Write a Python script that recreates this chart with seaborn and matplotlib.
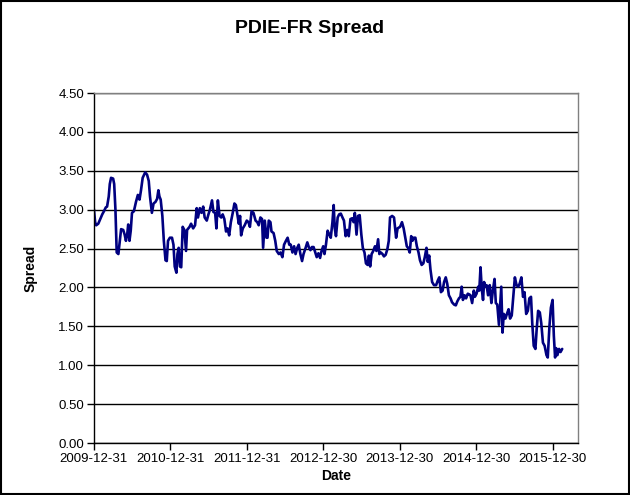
import pandas as pd
import matplotlib
matplotlib.use("Agg")
import matplotlib.pyplot as plt
import seaborn as sns
from matplotlib.patches import Rectangle

# Data: days since 2009-12-31 and spread
start_date = "2009-12-31"
day_offsets = [
    0, 6, 11, 21, 29, 40, 48, 57, 63, 71, 76, 82, 92, 97, 103, 109, 117, 124, 130, 140,
    147, 153, 159, 164, 170, 176, 182, 191, 201, 210, 218, 225, 233, 245, 254, 262, 268, 277, 285, 294,
    302, 308, 313, 319, 327, 334, 342, 348, 354, 363, 373, 380, 386, 394, 399, 405, 411, 417, 424, 432,
    440, 445, 457, 464, 474, 483, 491, 497, 506, 514, 522, 529, 539, 547, 554, 564, 571, 579, 585, 592,
    600, 608, 615, 623, 631, 638, 646, 654, 663, 671, 678, 686, 692, 698, 703, 711, 720, 730, 738, 745,
    753, 762, 772, 780, 787, 795, 803, 808, 816, 824, 829, 835, 843, 848, 858, 866, 873, 883, 891, 900,
    908, 917, 925, 933, 940, 948, 956, 963, 971, 978, 986, 994, 1001, 1011, 1019, 1026, 1034, 1041, 1049, 1057,
    1064, 1072, 1080, 1087, 1095, 1101, 1108, 1116, 1124, 1131, 1139, 1145, 1150, 1156, 1164, 1171, 1179, 1187, 1194, 1202,
    1210, 1217, 1225, 1233, 1240, 1246, 1254, 1261, 1269, 1277, 1284, 1292, 1299, 1307, 1313, 1319, 1326, 1334, 1342, 1349,
    1357, 1363, 1370, 1378, 1385, 1393, 1401, 1408, 1414, 1424, 1433, 1443, 1450, 1462, 1471, 1479, 1487, 1494, 1500, 1508,
    1515, 1521, 1527, 1535, 1542, 1550, 1557, 1565, 1573, 1580, 1588, 1594, 1601, 1607, 1615, 1624, 1634, 1642, 1649, 1657,
    1665, 1672, 1680, 1687, 1695, 1703, 1710, 1720, 1728, 1735, 1743, 1750, 1756, 1762, 1770, 1777, 1785, 1793, 1798, 1806,
    1814, 1819, 1827, 1835, 1840, 1846, 1852, 1858, 1863, 1869, 1875, 1882, 1890, 1898, 1905, 1913, 1919, 1926, 1934, 1940,
    1945, 1951, 1957, 1965, 1972, 1980, 1987, 1995, 2003, 2010, 2018, 2026, 2033, 2041, 2049, 2056, 2064, 2072, 2079, 2087,
    2093, 2100, 2108, 2114, 2121, 2129, 2136, 2144, 2152, 2161, 2167, 2175, 2182, 2190, 2196, 2202, 2207, 2213, 2221, 2228,
    2236,
]
spread = [
    3.01, 2.84, 2.80, 2.82, 2.87, 2.94, 2.98, 3.03, 3.04, 3.17, 3.33, 3.41, 3.40, 3.33, 3.00, 2.45, 2.43, 2.60, 2.75, 2.74,
    2.68, 2.60, 2.68, 2.81, 2.60, 2.73, 2.96, 2.98, 3.10, 3.19, 3.13, 3.25, 3.41, 3.48, 3.45, 3.37, 3.17, 2.96, 3.08, 3.10,
    3.14, 3.25, 3.17, 3.13, 2.92, 2.60, 2.35, 2.34, 2.60, 2.64, 2.64, 2.55, 2.27, 2.19, 2.43, 2.51, 2.27, 2.26, 2.78, 2.74,
    2.47, 2.74, 2.78, 2.82, 2.76, 2.80, 3.02, 2.90, 3.02, 2.96, 3.04, 2.90, 2.86, 2.94, 3.00, 3.12, 2.97, 2.96, 2.76, 3.12,
    2.92, 2.90, 2.94, 2.88, 2.72, 2.76, 2.67, 2.84, 2.96, 3.08, 3.06, 2.92, 2.82, 2.92, 2.67, 2.76, 2.80, 2.86, 2.84, 2.78,
    2.98, 2.96, 2.86, 2.84, 2.80, 2.90, 2.88, 2.51, 2.86, 2.64, 2.64, 2.86, 2.84, 2.72, 2.70, 2.60, 2.47, 2.43, 2.45, 2.39,
    2.55, 2.60, 2.64, 2.55, 2.55, 2.45, 2.53, 2.43, 2.51, 2.55, 2.43, 2.34, 2.43, 2.51, 2.58, 2.52, 2.48, 2.52, 2.52, 2.45,
    2.39, 2.44, 2.38, 2.47, 2.53, 2.43, 2.55, 2.73, 2.68, 2.64, 2.84, 3.06, 2.76, 2.66, 2.90, 2.94, 2.95, 2.90, 2.86, 2.66,
    2.74, 2.66, 2.88, 2.89, 2.84, 2.96, 2.68, 2.92, 2.93, 2.68, 2.51, 2.45, 2.31, 2.29, 2.41, 2.27, 2.43, 2.47, 2.53, 2.47,
    2.62, 2.43, 2.45, 2.43, 2.40, 2.42, 2.49, 2.60, 2.90, 2.92, 2.90, 2.64, 2.76, 2.78, 2.84, 2.76, 2.64, 2.53, 2.51, 2.45,
    2.66, 2.60, 2.64, 2.64, 2.53, 2.45, 2.35, 2.29, 2.31, 2.39, 2.51, 2.33, 2.41, 2.23, 2.07, 2.03, 2.03, 2.09, 2.13, 1.94,
    1.96, 2.07, 2.13, 2.05, 1.90, 1.86, 1.81, 1.78, 1.77, 1.82, 1.86, 1.88, 2.01, 1.84, 1.90, 1.86, 1.92, 1.91, 1.90, 1.80,
    1.96, 1.88, 1.92, 2.01, 1.96, 2.26, 1.98, 1.84, 2.07, 2.01, 2.03, 1.90, 2.03, 1.80, 1.96, 2.11, 1.80, 1.78, 1.52, 1.78,
    2.01, 1.42, 1.66, 1.60, 1.66, 1.72, 1.60, 1.64, 1.90, 2.13, 2.03, 2.01, 2.05, 2.13, 1.88, 1.94, 1.66, 1.70, 1.86, 1.88,
    1.54, 1.25, 1.21, 1.46, 1.70, 1.68, 1.54, 1.29, 1.25, 1.13, 1.10, 1.50, 1.74, 1.84, 1.38, 1.10, 1.22, 1.13, 1.21, 1.17,
    1.21,
]
tick_labels = ["2009-12-31", "2010-12-31", "2011-12-31", "2012-12-30",
               "2013-12-30", "2014-12-30", "2015-12-30"]
y_ticks = [0.0, 0.5, 1.0, 1.5, 2.0, 2.5, 3.0, 3.5, 4.0, 4.5]

df = pd.DataFrame({
    "Date": pd.Timestamp(start_date) + pd.to_timedelta(day_offsets, unit="D"),
    "Spread": spread,
})

sns.set_style("white")
plt.rcParams["font.family"] = ["Liberation Sans", "DejaVu Sans"]
plt.rcParams["text.color"] = "black"
plt.rcParams["axes.labelcolor"] = "black"
plt.rcParams["xtick.color"] = "black"
plt.rcParams["ytick.color"] = "black"

fig = plt.figure(figsize=(6.3, 4.95), dpi=100)
ax = fig.add_axes([0.149, 0.105, 0.768, 0.707])

sns.lineplot(data=df, x="Date", y="Spread", ax=ax, color="#000080", linewidth=1.9)

# Excel-like axes and gridlines
ax.set_ylim(0, 4.5)
ax.set_xlim(pd.Timestamp(start_date), pd.Timestamp(start_date) + pd.Timedelta(days=2310))
ax.set_yticks(y_ticks)
ax.set_yticklabels([f"{v:.2f}" for v in y_ticks], fontsize=9.5)
ax.set_xticks(pd.to_datetime(tick_labels))
ax.set_xticklabels(tick_labels, fontsize=9.5)
ax.yaxis.grid(True, color="black", linewidth=1)
ax.xaxis.grid(False)
ax.set_axisbelow(True)
ax.tick_params(axis="both", direction="out", length=5, width=1, color="black",
               labelcolor="black", pad=2)
ax.tick_params(axis="x", bottom=True)
ax.tick_params(axis="y", left=True)
for side in ["left", "bottom"]:
    ax.spines[side].set_color("black")
    ax.spines[side].set_linewidth(1)
for side in ["top", "right"]:
    ax.spines[side].set_color("#808080")
    ax.spines[side].set_linewidth(1)

fig.text(0.492, 0.943, "PDIE-FR Spread", fontsize=14, fontweight="bold",
         color="black", ha="center", va="center")
ax.set_xlabel("Date", fontsize=10, fontweight="bold", labelpad=3, color="black")
ax.set_ylabel("Spread", fontsize=10, fontweight="bold", labelpad=15, color="black")

# Outer chart border
fig.patches.append(Rectangle((0.002, 0.002), 0.996, 0.996, transform=fig.transFigure,
                             fill=False, edgecolor="black", linewidth=1.5))

fig.savefig("out.png", dpi=100)
